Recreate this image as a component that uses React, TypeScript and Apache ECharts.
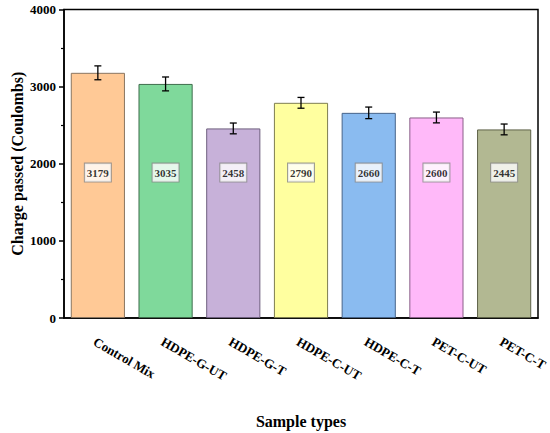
import React, { useEffect, useRef } from "react";
import * as echarts from "echarts";

const categories = ["Control Mix", "HDPE-G-UT", "HDPE-G-T", "HDPE-C-UT", "HDPE-C-T", "PET-C-UT", "PET-C-T"];
const values = [3179, 3035, 2458, 2790, 2660, 2600, 2445];
const errors = [90, 90, 70, 70, 75, 70, 70];
const labelLevel = 1885;
const fillColors = ["#FFC996", "#7FD99B", "#C7B1D9", "#FFFF9F", "#8ABBF0", "#FFB9F9", "#B2B892"];
const borderColors = ["#8A7560", "#3F6E4C", "#6E5F7E", "#7E7E50", "#46648A", "#8A5E88", "#5E6248"];
const yTicks = [0, 1000, 2000, 3000, 4000];

const FONT = "Liberation Serif";

export default function App() {
  const ref = useRef<HTMLDivElement>(null);
  useEffect(() => {
    if (!ref.current) return;
    const chart = echarts.init(ref.current, null, { renderer: "svg" });
    chart.setOption({
      animation: false,
      backgroundColor: "#ffffff",
      grid: {
        left: 64,
        right: 12,
        top: 9.5,
        bottom: 115,
        show: true,
        borderColor: "#000",
        borderWidth: 1.5,
        outerBoundsMode: "none",
        containLabel: false,
      },
      xAxis: {
        type: "category",
        data: categories,
        name: "Sample types",
        nameLocation: "middle",
        nameGap: 95,
        nameMoveOverlap: false,
        nameTextStyle: { fontFamily: FONT, fontWeight: "bold", fontSize: 16, color: "#000" },
        axisLine: { lineStyle: { color: "#000", width: 1.5 } },
        axisTick: { alignWithLabel: true, length: 5, lineStyle: { color: "#000", width: 1.5 } },
        axisLabel: {
          rotate: -30,
          margin: 17,
          verticalAlign: "top",
          fontFamily: FONT,
          fontWeight: "bold",
          fontSize: 13,
          color: "#000",
        },
      },
      yAxis: {
        type: "value",
        min: yTicks[0],
        max: yTicks[yTicks.length - 1],
        interval: 1000,
        name: "Charge passed (Coulombs)",
        nameLocation: "middle",
        nameGap: 39,
        nameMoveOverlap: false,
        nameTextStyle: { fontFamily: FONT, fontWeight: "bold", fontSize: 16, color: "#000" },
        axisLine: { show: true, lineStyle: { color: "#000", width: 1.5 } },
        axisTick: { show: true, length: 5, lineStyle: { color: "#000", width: 1.5 } },
        minorTick: { show: true, splitNumber: 2, length: 3, lineStyle: { color: "#000", width: 1.2 } },
        splitLine: { show: false },
        axisLabel: {
          fontFamily: FONT,
          fontWeight: "bold",
          fontSize: 13,
          color: "#000",
          margin: 8,
          formatter: (v: number) => String(v),
        },
      },
      series: [
        {
          type: "bar",
          barWidth: "80%",
          data: values.map((v, i) => ({
            value: v,
            itemStyle: { color: fillColors[i], borderColor: borderColors[i], borderWidth: 1 },
          })),
          z: 2,
        },
        {
          type: "custom",
          z: 3,
          data: values.map((v, i) => [i, v, errors[i]]),
          renderItem: (params: any, api: any) => {
            const x = api.value(0);
            const v = api.value(1);
            const e = api.value(2);
            const top = api.coord([x, v + e]);
            const bot = api.coord([x, v - e]);
            const hw = 3.5;
            const style = { stroke: "#000", lineWidth: 1.3 };
            return {
              type: "group",
              children: [
                { type: "line", shape: { x1: top[0], y1: top[1], x2: bot[0], y2: bot[1] }, style },
                { type: "line", shape: { x1: top[0] - hw, y1: top[1], x2: top[0] + hw, y2: top[1] }, style },
                { type: "line", shape: { x1: bot[0] - hw, y1: bot[1], x2: bot[0] + hw, y2: bot[1] }, style },
              ],
            };
          },
        },
        {
          type: "scatter",
          z: 4,
          symbolSize: 0,
          data: values.map((v, i) => [i, labelLevel, v]),
          label: {
            show: true,
            position: "inside",
            formatter: (p: any) => String(p.data[2]),
            fontFamily: FONT,
            fontWeight: "bold",
            fontSize: 11,
            color: "#000",
            backgroundColor: "#fff",
            borderColor: "#888",
            borderWidth: 1,
            padding: [4, 2, 3, 2],
          },
        },
      ],
    });
    return () => chart.dispose();
  }, []);
  return <div ref={ref} style={{ position: "fixed", left: 0, top: 0, width: 550, height: 433 }} />;
}
